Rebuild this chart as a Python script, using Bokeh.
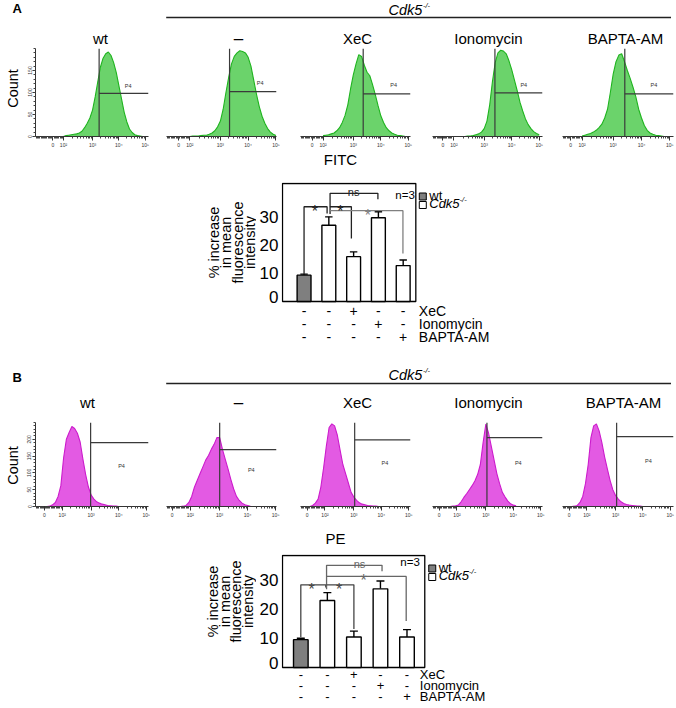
import numpy as np
from bokeh.plotting import figure
from bokeh.layouts import column, row
from bokeh.models import Range1d, FixedTicker
from bokeh.core.properties import value
from bokeh.embed import file_html
from bokeh.resources import INLINE

FONT = "Liberation Sans"
W = 676

# ---------------- data ----------------
treatments = ["wt", "\u2013", "XeC", "Ionomycin", "BAPTA-AM"]
bar_pos = [1, 2, 3, 4, 5]
drugs = ["XeC", "Ionomycin", "BAPTA-AM"]
xec_sign = ["-", "-", "+", "-", "-"]
iono_sign = ["-", "-", "-", "+", "-"]
bapta_sign = ["-", "-", "-", "-", "+"]
bar_ticks = [0, 10, 20, 30]

# histogram display units: 10^3 -> 3, 10^4 -> 4, 10^5 -> 5
fitc_tick_pos = [1.5, 1.9, 3, 4, 5]
pe_tick_pos = [1.3, 1.95, 3, 4, 5]
tick_labels = ["0", "10\u00b2", "10\u00b3", "10\u2074", "10\u2075"]

fitc_x = [1.9, 2.0, 2.1, 2.2, 2.3, 2.4, 2.5, 2.6, 2.7, 2.8, 2.9, 3.0, 3.1, 3.2, 3.3, 3.4,
          3.5, 3.6, 3.7, 3.8, 3.9, 4.0, 4.1, 4.2, 4.3, 4.4, 4.5, 4.6, 4.7, 4.8, 4.9, 5.0]
fitc_wt = [0, 2, 3, 4, 5, 6, 8, 12, 20, 30, 42, 60, 90, 125, 158, 178,
           188, 192, 184, 168, 145, 115, 85, 55, 33, 17, 9, 4, 2, 1, 0, 0]
fitc_ko = [0, 1, 1, 1, 2, 3, 3, 5, 8, 13, 22, 35, 62, 100, 135, 165,
           182, 190, 195, 193, 190, 180, 160, 128, 96, 68, 46, 30, 18, 10, 5, 2]
fitc_xec = [2, 3, 4, 6, 8, 13, 20, 32, 48, 72, 108, 140, 165, 186, 182, 162,
            146, 138, 118, 95, 70, 47, 32, 20, 13, 8, 5, 3, 2, 1, 0, 0]
fitc_iono = [0, 0, 0, 0, 0, 1, 1, 2, 4, 6, 10, 18, 35, 72, 125, 168,
             190, 196, 194, 188, 172, 152, 128, 104, 78, 58, 40, 27, 18, 11, 7, 4]
fitc_bapta = [1, 3, 5, 7, 10, 14, 20, 28, 42, 62, 100, 142, 170, 185, 188, 170,
              150, 132, 112, 90, 62, 42, 25, 14, 8, 5, 3, 2, 1, 0, 0, 0]
fitc_gate_x = [3.25, 3.33, 3.36, 3.39, 3.41]
fitc_gate_y = [98, 102, 97, 99, 97]
fitc_p4_x = [4.35, 4.43, 4.47, 4.44, 4.44]
fitc_p4_y = [114, 121, 116, 118, 116]

pe_x = [1.4, 1.5, 1.6, 1.7, 1.8, 1.9, 2.0, 2.1, 2.2, 2.3, 2.4, 2.5, 2.6, 2.7,
        2.8, 2.9, 3.0, 3.1, 3.2, 3.3, 3.4, 3.5, 3.6, 3.7, 3.8, 3.9, 4.0, 4.1]
pe_wt = [0, 1, 5, 12, 30, 62, 145, 200, 220, 238, 232, 218, 192, 141,
         95, 58, 34, 22, 14, 10, 7, 5, 3, 2, 1, 1, 0, 0]
pe_ko = [0, 0, 0, 1, 3, 12, 30, 58, 78, 98, 118, 138, 152, 170,
         185, 205, 205, 170, 140, 111, 80, 52, 30, 18, 10, 5, 3, 1]
pe_xec = [0, 3, 10, 22, 58, 115, 180, 235, 246, 240, 212, 168, 125, 98,
          70, 42, 28, 18, 11, 7, 5, 3, 2, 1, 1, 0, 0, 0]
pe_iono = [0, 0, 0, 0, 1, 2, 4, 14, 27, 38, 50, 62, 76, 95,
           125, 190, 245, 218, 178, 138, 98, 68, 42, 28, 16, 8, 4, 2]
pe_bapta = [0, 1, 3, 12, 30, 68, 125, 205, 240, 246, 225, 190, 148, 112,
            78, 50, 33, 22, 14, 9, 6, 4, 3, 2, 1, 1, 0, 0]
pe_gate_x = [2.98, 3.0, 3.03, 3.04, 3.04]
pe_gate_y = [190, 169, 198, 205, 208]
pe_p4_x = [4.1, 4.13, 4.13, 4.18, 4.2]
pe_p4_y = [121, 109, 129, 129, 136]

# % increase in mean fluorescence intensity
fitc_mean = [9.4, 27.2, 16.0, 29.9, 12.8]
fitc_err = [0.35, 3.0, 1.7, 2.1, 2.0]
pe_mean = [9.6, 23.1, 10.5, 27.1, 10.5]
pe_err = [0.5, 2.7, 2.05, 2.7, 2.55]

# significance brackets (bar units / value units)
fitc_br_x0 = [1.0, 2.05, 2.05, 2.05]
fitc_br_x1 = [1.93, 3.98, 2.91, 4.99]
fitc_br_top = [33.8, 38.6, 33.8, 32.4]
fitc_br_end0 = [9.7, 33.8, 31.2, 32.4]
fitc_br_end1 = [31.4, 36.5, 22.5, 17.1]
fitc_br_lab = ["*", "ns", "*", "*"]
fitc_br_labx = [1.44, 3.0, 2.47, 3.57]

pe_br_x0 = [1.0, 1.97, 1.97, 1.97]
pe_br_x1 = [1.94, 4.06, 3.0, 4.97]
pe_br_top = [28.5, 35.2, 28.5, 31.4]
pe_br_end0 = [10.4, 27.0, 28.5, 31.4]
pe_br_end1 = [27.6, 33.2, 13.3, 16.0]
pe_br_lab = ["*", "ns", "*", "*"]
pe_br_labx = [1.41, 3.21, 2.44, 3.37]

# ---------------- helpers ----------------
def base_fig(w, h, xr, yr, left=0, right=0, top=0, bottom=0, xaxis=False, yaxis=False):
    p = figure(width=w, height=h, x_range=Range1d(*xr), y_range=Range1d(*yr),
               x_axis_type="linear" if xaxis else None,
               y_axis_type="linear" if yaxis else None,
               toolbar_location=None, output_backend="svg",
               min_border_left=left, min_border_right=right,
               min_border_top=top, min_border_bottom=bottom)
    try:
        p.frame_align = False
    except Exception:
        pass
    p.outline_line_color = None
    p.xgrid.visible = False
    p.ygrid.visible = False
    p.background_fill_color = "white"
    p.border_fill_color = "white"
    return p


def txt(p, x, y, s, size, align="center", baseline="middle", color="black",
        style="normal", angle=0.0):
    p.text(x=[x], y=[y], text=[s], text_font=value(FONT),
           text_font_size=value(f"{size}px"), text_align=align,
           text_baseline=baseline, text_color=color,
           text_font_style=value(style), angle=angle)


def header(h, y0, panel, panel_y, cdk_y, line_y, title_y, title_xs):
    p = base_fig(W, h, (0, W), (y0 + h, y0))
    txt(p, 12, panel_y, panel, 13, align="left", style="bold")
    txt(p, 388, cdk_y, "Cdk5", 14.5, align="left", style="italic")
    txt(p, 422.5, cdk_y - 4, "-/-", 7.5, align="left", style="italic")
    p.segment(x0=[165.7], y0=[line_y], x1=[670.5], y1=[line_y],
              line_color="#222222", line_width=1.6)
    for s, x in zip(treatments, title_xs):
        txt(p, x, title_y, s, 17 if s == "\u2013" else 15)
    return p


def label_fig(h, y0, s, x, y):
    p = base_fig(W, h, (0, W), (y0 + h, y0))
    txt(p, x, y, s, 15)
    return p


def count_fig(w, h, xc, yc):
    p = base_fig(w, h, (0, w), (h, 0))
    txt(p, xc, yc, "Count", 14.5, angle=np.pi / 2)
    return p


def minor_ticks(x0, dec2):
    lin = [float(v) for v in np.arange(x0 + 0.03, dec2 - 0.02, 0.045)]
    lg = [float(dec2 + (3 - dec2) * np.log10(k)) for k in range(2, 10)]
    lg += [float(d + np.log10(k)) for d in (3, 4) for k in range(2, 10)]
    return lin + lg


def hist_fig(cell, h, top, bottom, xr, ymax, xs, ns, gx, gy, px, py,
             fill, edge, tick_pos, yaxis, yticks):
    w, left, right = cell
    p = base_fig(w, h, xr, (0, ymax), left, right, top, bottom, xaxis=True, yaxis=yaxis)
    p.varea(x=xs, y1=0, y2=ns, fill_color=fill, fill_alpha=1.0)
    p.line(xs, ns, line_color=edge, line_width=1.1)
    p.segment(x0=[gx, gx], y0=[0, gy], x1=[gx, xr[1]], y1=[ymax, gy],
              line_color="#3a3a3a", line_width=1.2)
    txt(p, px, py, "P4", 5.5, color="#333333")
    ax = p.xaxis[0]
    ax.ticker = FixedTicker(ticks=tick_pos, minor_ticks=minor_ticks(xr[0], tick_pos[1]))
    ax.major_label_overrides = {t: l for t, l in zip(tick_pos, tick_labels)}
    ax.major_label_text_font = FONT
    ax.major_label_text_font_size = "5px"
    ax.major_label_text_color = "#333333"
    ax.major_label_standoff = 1
    ax.axis_line_color = "#333333"
    ax.major_tick_line_color = "#333333"
    ax.minor_tick_line_color = "#444444"
    ax.major_tick_in = 0
    ax.major_tick_out = 4
    ax.minor_tick_in = 0
    ax.minor_tick_out = 2
    if yaxis:
        ya = p.yaxis[0]
        ya.ticker = FixedTicker(ticks=yticks, minor_ticks=list(range(0, ymax + 1, 10)))
        ya.major_label_orientation = "vertical"
        ya.major_label_text_font = FONT
        ya.major_label_text_font_size = "5px"
        ya.major_label_text_color = "#333333"
        ya.major_label_standoff = 1
        ya.axis_line_color = "#333333"
        ya.major_tick_line_color = "#333333"
        ya.minor_tick_line_color = "#444444"
        ya.major_tick_in = 0
        ya.major_tick_out = 3
        ya.minor_tick_in = 0
        ya.minor_tick_out = 2
    return p


def bar_block(y0, h, top, box_l, box_r, box_t, box_b, x_l, x_r, ymax,
              means, errs, bw, bx0, bx1, btop, bend0, bend1, blab, blabx, bcol,
              n_px, leg_sq, leg_y, sign_rows, sign_lab_x, sign_size):
    """Bar chart with its legend and treatment table; page-pixel layout positions
    are converted into the chart's own data units (bars at 1..5, values)."""
    ppu = (box_r - box_l) / (x_r - x_l)
    ppy = (box_b - box_t) / ymax
    ux = lambda px: x_l + (px - box_l) / ppu
    uy = lambda py: (box_b - py) / ppy
    left = 23
    fig_x0 = 256
    xr = (ux(fig_x0 + left), ux(W))
    yr = (uy(y0 + h), uy(y0 + top))
    p = base_fig(W - fig_x0, h, xr, yr, left, 0, top, 0, yaxis=True)

    # frame box of the chart
    p.quad(left=[x_l], right=[x_r], bottom=[0], top=[ymax], fill_color=None,
           line_color="black", line_width=1.3)
    fills = ["#7f7f7f", "white", "white", "white", "white"]
    tops = [m + e for m, e in zip(means, errs)]
    p.segment(x0=bar_pos, y0=means, x1=bar_pos, y1=tops, line_color="black", line_width=1.4)
    p.segment(x0=[x - 0.15 for x in bar_pos], y0=tops, x1=[x + 0.15 for x in bar_pos],
              y1=tops, line_color="black", line_width=1.4)
    p.vbar(x=bar_pos, top=means, width=bw, fill_color=fills, line_color="black", line_width=1.4)
    xs = [[a, a, b, b] for a, b in zip(bx0, bx1)]
    ys = [[e0, t, t, e1] for e0, t, e1 in zip(bend0, btop, bend1)]
    p.multi_line(xs, ys, line_color=bcol, line_width=1.3)
    for lab, lx, t, c in zip(blab, blabx, btop, bcol):
        if lab == "*":
            txt(p, lx, t - 4.5 / ppy, "*", 16, baseline="alphabetic", color=c)
        else:
            txt(p, lx, t + 1.5 / ppy, "ns", 11, baseline="alphabetic", color=c)
    txt(p, ux(n_px[0]), uy(n_px[1]), "n=3", 11.5, align="right")

    # legend
    p.scatter([ux(leg_sq), ux(leg_sq)], [uy(leg_y[0] + 1.5), uy(leg_y[1] + 1.5)],
              marker="square", size=7, fill_color=["#7f7f7f", "white"],
              line_color="black", line_width=1)
    txt(p, ux(leg_sq + 6.5), uy(leg_y[0]), "wt", 13, align="left")
    txt(p, ux(leg_sq + 6.5), uy(leg_y[1]), "Cdk5", 13, align="left", style="italic")
    txt(p, ux(leg_sq + 37), uy(leg_y[1] - 4), "-/-", 7.5, align="left", style="italic")

    # treatment table
    for signs, name, yy in zip([xec_sign, iono_sign, bapta_sign], drugs, sign_rows):
        p.text(x=bar_pos, y=[uy(yy)] * 5, text=signs, text_font=value(FONT),
               text_font_size=value(f"{sign_size}px"), text_align="center",
               text_baseline="middle", text_color="black")
        txt(p, ux(sign_lab_x), uy(yy), name, sign_size, align="left")

    ya = p.yaxis[0]
    zero_pos = 4.5 / ppy          # "0" label sits just above the baseline, as in the original
    ya.ticker = FixedTicker(ticks=[zero_pos] + bar_ticks[1:], minor_ticks=[])
    ya.major_label_overrides = {zero_pos: "0"}
    ya.major_label_text_font = FONT
    ya.major_label_text_font_size = "17px"
    ya.major_label_text_color = "black"
    ya.major_label_standoff = 3
    ya.axis_line_color = None
    ya.major_tick_in = 0
    ya.major_tick_out = 0
    ya.minor_tick_in = 0
    ya.minor_tick_out = 0
    return p


def ytitle_fig(h, y0, xs, yc):
    p = base_fig(256, h, (0, 256), (y0 + h, y0))
    lines = ["% increase", "in mean", "fluorescence", "intensity"]
    for s, x in zip(lines, xs):
        txt(p, x, yc, s, 14.5, angle=np.pi / 2)
    return p


# ---------------- layout ----------------
cells = [(126, 9, 2), (134, 16, 8), (136, 16, 10), (130, 12, 8), (126, 12, 3)]

fitc_ranges = [(0.84, 5.12), (1.06, 5.02), (1.08, 5.08), (1.12, 5.12), (1.21, 5.13)]
pe_ranges = [(0.98, 5.08), (1.1, 5.03), (1.06, 5.06), (1.06, 5.06), (1.06, 5.12)]
fitc_series = [fitc_wt, fitc_ko, fitc_xec, fitc_iono, fitc_bapta]
pe_series = [pe_wt, pe_ko, pe_xec, pe_iono, pe_bapta]

# Panel A  (page y 0 .. 345)
hdrA = header(48, 0, "A", 8, 9, 17, 38, [100, 238, 357, 488, 625])
histsA = [count_fig(24, 102, 12, 40)]
for i in range(5):
    histsA.append(hist_fig(cells[i], 102, 0, 14, fitc_ranges[i], 200, fitc_x, fitc_series[i],
                           fitc_gate_x[i], fitc_gate_y[i], fitc_p4_x[i], fitc_p4_y[i],
                           "#6bd36b", "#1fb41f", fitc_tick_pos, i == 0, [0, 50, 100, 150]))
fitcLab = label_fig(30, 150, "FITC", 340, 159)

barA = bar_block(180, 165, 2, 280, 414, 183, 301, 0.13, 5.51, 42.1,
                 fitc_mean, fitc_err, 0.56,
                 fitc_br_x0, fitc_br_x1, fitc_br_top, fitc_br_end0, fitc_br_end1,
                 fitc_br_lab, fitc_br_labx, ["#222222", "#222222", "#222222", "#808080"],
                 (413, 194), 421, (194.5, 203), [310, 323, 336], 417, 14)
ytA = ytitle_fig(165, 180, [213.5, 225.5, 237, 249], 242)

# Panel B  (page y 345 .. 708)
hdrB = header(75, 345, "B", 377, 374, 383, 402, [87, 238, 357, 488, 623])
histsB = [count_fig(24, 102, 12, 45)]
for i in range(5):
    histsB.append(hist_fig(cells[i], 102, 2, 16, pe_ranges[i], 250, pe_x, pe_series[i],
                           pe_gate_x[i], pe_gate_y[i], pe_p4_x[i], pe_p4_y[i],
                           "#e35ae3", "#cc1ccc", pe_tick_pos, i == 0, [0, 50, 100, 150, 200]))
peLab = label_fig(29, 522, "PE", 335, 538)

barB = bar_block(551, 157, 3, 280, 423, 555, 667, 0.31, 5.67, 38.6,
                 pe_mean, pe_err, 0.55,
                 pe_br_x0, pe_br_x1, pe_br_top, pe_br_end0, pe_br_end1,
                 pe_br_lab, pe_br_labx, ["#444444", "#666666", "#444444", "#666666"],
                 (418, 561.7), 430.5, (566.5, 575), [673.5, 684.5, 695.5], 418, 13)
ytB = ytitle_fig(157, 551, [212.5, 224, 235.5, 247], 601)

layout = column(
    hdrA,
    row(*histsA),
    fitcLab,
    row(ytA, barA),
    hdrB,
    row(*histsB),
    peLab,
    row(ytB, barB),
)

open("out.html", "w").write(file_html(layout, INLINE))
